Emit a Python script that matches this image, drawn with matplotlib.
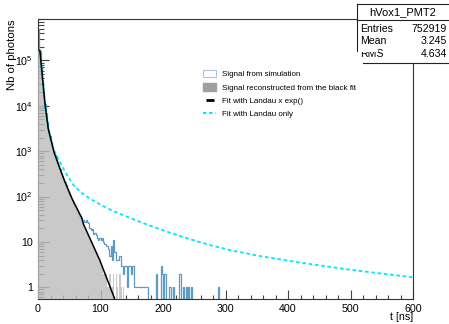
import numpy as np
import matplotlib
matplotlib.use('Agg')
import matplotlib.pyplot as plt
from matplotlib.patches import Rectangle, Patch
from matplotlib.lines import Line2D
from matplotlib.ticker import MultipleLocator, LogLocator, FuncFormatter, NullFormatter
from matplotlib import font_manager

plt.rcParams['font.family'] = ['Liberation Sans', 'DejaVu Sans']
plt.rcParams['mathtext.fontset'] = 'custom'
plt.rcParams['mathtext.rm'] = 'Liberation Sans'
plt.rcParams['mathtext.it'] = 'Liberation Sans'

names = {f.name for f in font_manager.fontManager.ttflist}
STAT_FONT = 'Liberation Sans Narrow' if 'Liberation Sans Narrow' in names else 'Liberation Sans'

# histogram binning: 2 ns bins from 0 to 600 ns
BIN_NS = 2.0
T_MAX = 600.0

# simulated signal, first bins (0 .. 150 ns)
sim_head = [500000, 160000, 70000, 37000, 20000, 11000, 7000, 4500, 3000, 2200,
            1600, 1250, 1000, 820, 680, 560, 470, 400, 335, 285,
            240, 205, 175, 150, 128, 110, 95, 82, 70, 62,
            54, 47, 42, 37, 34, 30, 31, 28, 30, 27,
            26, 20, 18, 19, 15, 16, 14, 12, 11, 12,
            11, 12, 10, 9, 8, 8, 7, 5, 8, 4,
            11, 6, 4, 4, 4, 5, 3, 3, 2, 3,
            3, 1, 3, 3, 2]
# sparse tail of the simulated signal: bin start (ns) -> counts
sim_tail_ns = [150, 152, 154, 156, 158, 160, 162, 164, 166, 168, 170, 172, 174,
               188, 196, 198, 202, 210, 216, 226, 232, 236, 240, 244, 288]
sim_tail_counts = [3, 3, 1, 1, 1, 1, 1, 1, 1, 1, 1, 1, 1,
                   2, 3, 2, 2, 1, 1, 2, 1, 1, 1, 1, 1]

# signal reconstructed from the black fit (0 .. 138 ns)
rec_head = [160000, 150000, 65000, 36000, 20000, 11500, 7200, 4700, 3200, 2300,
            1700, 1300, 1020, 830, 690, 580, 490, 415, 355, 305,
            262, 225, 195, 168, 145, 125, 108, 93, 80, 69,
            60, 52, 45, 39, 33, 29, 25, 21, 18, 16,
            14, 12, 10, 9, 8, 7, 6, 5, 4, 4,
            3, 3, 2, 2, 2, 1, 1, 2, 1, 1,
            2, 0, 2, 1, 0, 2, 1, 0, 1]

# fit curves
fit_exp_t = [3, 7.5, 11.5, 16.5, 25.6, 38, 43, 54, 70, 72.5, 99, 123]
fit_exp_y = [1.65e5, 3.7e4, 1.0e4, 3.05e3, 950, 320, 212, 92, 33.7, 25, 3.9, 0.54]
fit_lan_t = [3, 7.5, 11.5, 16.5, 24.5, 35, 45, 56.5, 70, 83, 100, 120, 142, 168,
             195, 230, 275, 307, 350, 419, 499, 600]
fit_lan_y = [1.65e5, 3.7e4, 1.0e4, 3.1e3, 1.12e3, 575, 320, 180, 120, 90, 66, 48, 36, 26,
             19, 13, 8.5, 6.6, 5.0, 3.5, 2.43, 1.65]

stat_name = 'hVox1_PMT2'
stat_rows = [('Entries', '752919'), ('Mean', '3.245'), ('RMS', '4.634')]

edges = np.arange(0.0, T_MAX + BIN_NS, BIN_NS)
nbins = len(edges) - 1
sim = np.zeros(nbins)
sim[:len(sim_head)] = sim_head
for t0, c in zip(sim_tail_ns, sim_tail_counts):
    sim[int(t0 / BIN_NS)] = c
rec = np.zeros(nbins)
rec[:len(rec_head)] = rec_head

W, H = 449, 324
fig = plt.figure(figsize=(W / 100, H / 100), dpi=100)
ax = fig.add_axes([38 / W, 1 - 299 / H, (413 - 38) / W, (299 - 19) / H])

YMIN = 0.55
floor = 1e-3
ax.stairs(np.where(sim > 0, sim, floor), edges, baseline=floor, color='#5b9bc4', lw=0.9, zorder=2)
ax.stairs(np.where(rec > 0, rec, floor), edges, baseline=floor, fill=True,
          color='#bdbdbd', alpha=0.82, lw=0, zorder=3)
ax.plot(fit_lan_t, fit_lan_y, color='#00e8ff', lw=1.3, dashes=(2.0, 1.5), zorder=4)
ax.plot(fit_exp_t, fit_exp_y, color='black', lw=1.1, zorder=5)

ax.set_yscale('log')
ax.set_xlim(0, T_MAX)
ax.set_ylim(YMIN, 8.2e5)

ax.xaxis.set_major_locator(MultipleLocator(100))
ax.xaxis.set_minor_locator(MultipleLocator(20))
ax.yaxis.set_major_locator(LogLocator(base=10))
ax.yaxis.set_minor_locator(LogLocator(base=10, subs=np.arange(2, 10)))
ax.yaxis.set_minor_formatter(NullFormatter())


def ylab(v, pos):
    e = int(round(np.log10(v)))
    if e == 0:
        return '1'
    if e == 1:
        return '10'
    return r'$10^{%d}$' % e


ax.yaxis.set_major_formatter(FuncFormatter(ylab))
ax.tick_params(axis='both', which='both', direction='in', colors='#444444',
               labelcolor='black', labelsize=7.7, width=0.8)
ax.tick_params(axis='x', which='major', length=6.5, pad=3.5)
ax.tick_params(axis='x', which='minor', length=3.2)
ax.tick_params(axis='y', which='major', length=8, pad=3.5)
ax.tick_params(axis='y', which='minor', length=4.3)
for s in ax.spines.values():
    s.set_color('#333333')
    s.set_linewidth(0.8)

fig.text(12 / W, 1 - 19 / H, 'Nb of photons', rotation=90, ha='center', va='top', fontsize=8.2)
fig.text(413 / W, 1 - 317 / H, 't [ns]', ha='right', va='center', fontsize=7.7)

handles = [Patch(facecolor='white', edgecolor='#a8c4e0', lw=0.8),
           Patch(facecolor='#a0a0a0', edgecolor='#a0a0a0'),
           Line2D([], [], color='black', marker='_', markersize=6, mew=2, linestyle='none'),
           Line2D([], [], color='#00e8ff', lw=1.5, dashes=(1.6, 1.4))]
labels = ['Signal from simulation', 'Signal reconstructed from the black fit',
          'Fit with Landau x exp()', 'Fit with Landau only']
ax.legend(handles, labels, loc='upper left', bbox_to_anchor=(203 / W, 1 - 70 / H),
          bbox_transform=fig.transFigure, frameon=False, fontsize=5.8,
          borderpad=0, borderaxespad=0, handlelength=1.65, handleheight=1.0,
          handletextpad=0.75, labelspacing=0.62)

# stats box
tf = fig.transFigure
fig.add_artist(Rectangle((357 / W, 1 - 63 / H), (449 - 357) / W, (63 - 4) / H,
                         transform=tf, facecolor='white', edgecolor='none', zorder=10))
seg = [((357, 4), (449, 4)), ((357, 4), (357, 51)), ((357, 20), (449, 20)), ((363, 63), (449, 63))]
for (x0, y0), (x1, y1) in seg:
    fig.add_artist(Line2D([x0 / W, x1 / W], [1 - y0 / H, 1 - y1 / H], transform=tf,
                          color='#222222', lw=0.8, zorder=11))
fig.text(403 / W, 1 - 12 / H, stat_name, ha='center', va='center', fontsize=8.0,
         family=STAT_FONT, zorder=12)
for i, (k, v) in enumerate(stat_rows):
    y = 1 - (29 + 12.5 * i) / H
    fig.text(360 / W, y, k, ha='left', va='center', fontsize=7.6, family=STAT_FONT, zorder=12)
    fig.text(447 / W, y, v, ha='right', va='center', fontsize=7.6, family=STAT_FONT, zorder=12)
# the box edge that hides the top of the last row
fig.add_artist(Rectangle((358 / W, 1 - 51.5 / H), 20 / W, 2.5 / H, transform=tf,
                         facecolor='white', edgecolor='none', zorder=13))

fig.savefig('out.png', dpi=100)
